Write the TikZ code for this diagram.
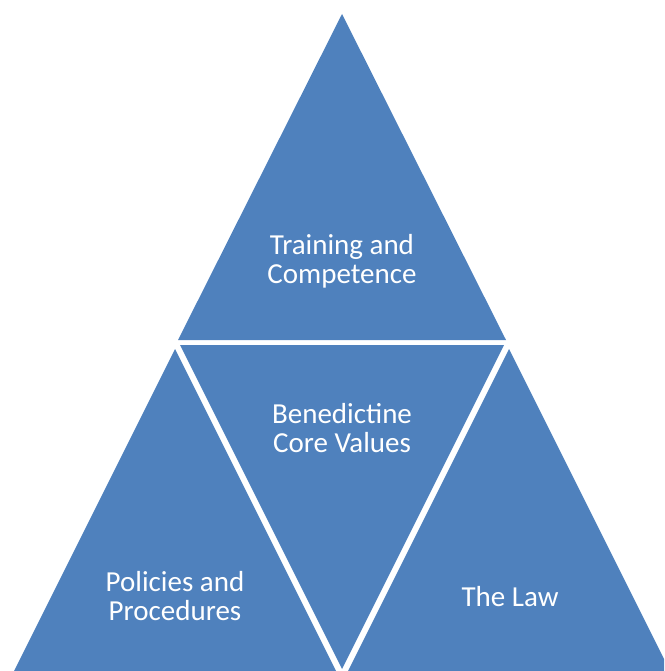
\documentclass[tikz,border=0pt]{standalone}
\usepackage{fontspec}
\setmainfont{Carlito}
\definecolor{accblue}{HTML}{4F81BD}
\begin{document}
\begin{tikzpicture}[x=1pt,y=-1pt,
  tri/.style={fill=accblue,draw=none},
  lbl/.style={text=white,align=center,font=\fontsize{29}{28.7}\selectfont,inner sep=0pt}]
\useasboundingbox (0,0) rectangle (664,671);
\begin{scope}
\clip (0,0) rectangle (664,671);
\fill[tri] (342,14) -- (178,340) -- (506,340) -- cycle;
\fill[tri] (180,345) -- (504,345) -- (342,669) -- cycle;
\fill[tri] (175,349) -- (13,673) -- (337,673) -- cycle;
\fill[tri] (509,349) -- (347,673) -- (671,673) -- cycle;
\end{scope}
\node[lbl] (top) at (342,261) {Training and\\Competence};
\node[lbl] (mid) at (342,428) {Benedictine\\Core Values};
\node[lbl] (left) at (175,596) {Policies and\\Procedures};
\node[lbl] (right) at (510,597) {The Law};
\end{tikzpicture}
\end{document}
